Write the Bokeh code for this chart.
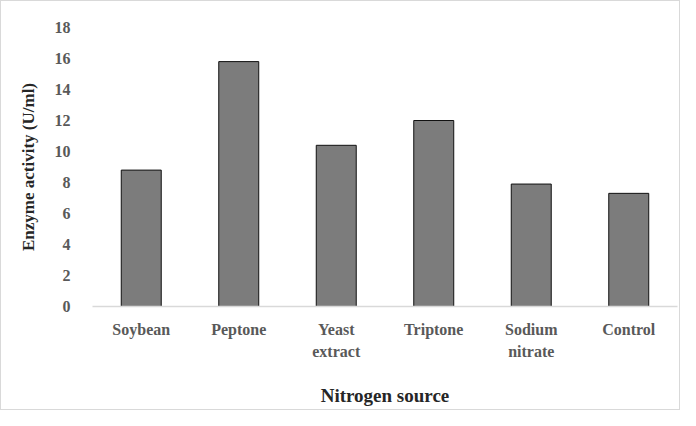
from bokeh.plotting import figure
from bokeh.models import ColumnDataSource, Range1d, FixedTicker, LinearAxis
from bokeh.embed import file_html
from bokeh.resources import INLINE

categories = ["Soybean", "Peptone", "Yeast extract", "Triptone", "Sodium nitrate", "Control"]
label_line1 = ["Soybean", "Peptone", "Yeast", "Triptone", "Sodium", "Control"]
label_line2 = ["", "", "extract", "", "nitrate", ""]
activity = [8.8, 15.8, 10.4, 12.0, 7.9, 7.3]
y_ticks = [0, 2, 4, 6, 8, 10, 12, 14, 16, 18]

pos = list(range(len(categories)))
src = ColumnDataSource(dict(x=pos, cat=categories, val=activity))

p = figure(x_range=Range1d(-0.5, len(categories) - 0.5), y_range=Range1d(0, 18),
           width=680, height=410, output_backend="svg", toolbar_location=None,
           x_axis_location=None,
           min_border_left=91, min_border_right=4, min_border_top=26, min_border_bottom=105)
p.styles = {"border": "1px solid #d9d9d9"}
p.outline_line_color = None
p.xgrid.grid_line_color = None
p.ygrid.grid_line_color = None

p.vbar(x="x", top="val", width=0.41, source=src, fill_color="#7c7c7c",
       line_color="#111111", line_width=1)

font = "Liberation Serif"
p.yaxis.ticker = FixedTicker(ticks=y_ticks)
p.yaxis.axis_line_color = None
p.yaxis.major_tick_line_color = None
p.yaxis.minor_tick_line_color = None
p.yaxis.major_label_standoff = 16
p.yaxis.major_label_text_font = font
p.yaxis.major_label_text_font_style = "bold"
p.yaxis.major_label_text_font_size = "16px"
p.yaxis.major_label_text_color = "#595959"
p.yaxis.axis_label = "Enzyme activity (U/ml)"
p.yaxis.axis_label_text_font = font
p.yaxis.axis_label_text_font_style = "bold"
p.yaxis.axis_label_text_font_size = "17px"
p.yaxis.axis_label_text_color = "#262626"
p.yaxis.axis_label_standoff = 14

def make_x(labels, standoff):
    ticks = [i for i, t in zip(pos, labels) if t]
    ax = LinearAxis(ticker=FixedTicker(ticks=ticks))
    ax.major_tick_line_color = None
    ax.minor_tick_line_color = None
    ax.major_label_overrides = {i: t for i, t in zip(pos, labels) if t}
    ax.major_label_standoff = standoff
    ax.major_label_text_font = font
    ax.major_label_text_font_style = "bold"
    ax.major_label_text_font_size = "16px"
    ax.major_label_text_color = "#595959"
    return ax

xa = make_x(label_line1, 8)
xa.axis_line_color = "#d9d9d9"
xa.axis_line_width = 1.5
p.add_layout(xa, "below")

xb = make_x(label_line2, -4)
xb.axis_line_color = None
xb.axis_label = "Nitrogen source"
xb.axis_label_text_font = font
xb.axis_label_text_font_style = "bold"
xb.axis_label_text_font_size = "19px"
xb.axis_label_text_color = "#262626"
xb.axis_label_standoff = 22
p.add_layout(xb, "below")

open("out.html", "w").write(file_html(p, INLINE))
